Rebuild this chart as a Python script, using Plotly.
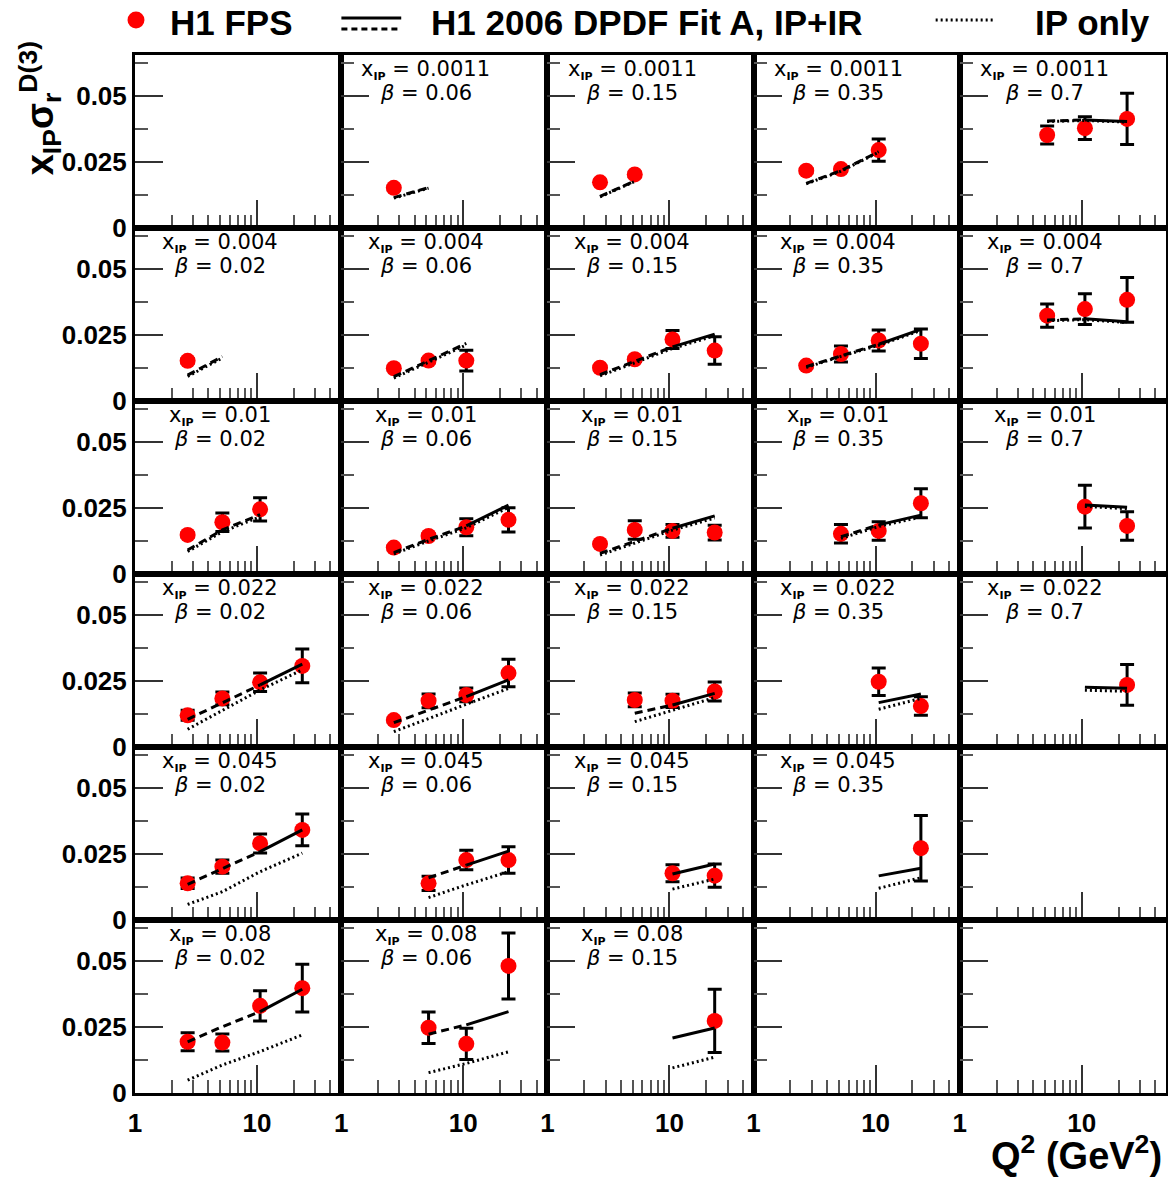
import plotly.graph_objects as go

# ---------------- data ----------------
Q2 = [2.7, 5.2, 10.6, 23.5]                       # GeV^2 bin centres
X_POM = ["0.0011", "0.004", "0.01", "0.022", "0.045", "0.08"]   # rows
BETA = ["0.02", "0.06", "0.15", "0.35", "0.7"]                  # columns
N = None

# x_IP = 0.0011  (one list per beta column, values at the Q2 points)
sig_0011 = [[N, N, N, N], [0.0152, N, N, N], [0.0173, 0.0203, N, N],
            [0.0217, 0.0223, 0.0295, N], [N, 0.0352, 0.0378, 0.0413]]
err_0011 = [[N, N, N, N], [0.0008, N, N, N], [0.0008, 0.0008, N, N],
            [0.0008, 0.0008, 0.0042, N], [N, 0.0034, 0.0043, 0.0097]]
fit_0011 = [[N, N, N, N], [0.0115, 0.0153, N, N], [0.0120, 0.0178, N, N],
            [0.0169, 0.0217, 0.0289, N], [N, 0.0405, 0.0409, 0.0403]]
ip_0011 = [[N, N, N, N], [0.0113, 0.0151, N, N], [0.0118, 0.0176, N, N],
           [0.0167, 0.0215, 0.0287, N], [N, 0.0403, 0.0407, 0.0401]]

# x_IP = 0.004
sig_004 = [[0.0152, N, N, N], [0.0124, 0.0153, 0.0153, N], [0.0126, 0.0158, 0.0233, 0.0191],
           [0.0134, 0.0178, 0.0229, 0.0217], [N, 0.0323, 0.0348, 0.0383]]
err_004 = [[0.0008, N, N, N], [0.0008, 0.0008, 0.0039, N], [0.0008, 0.0008, 0.0034, 0.0052],
           [0.0008, 0.0030, 0.0040, 0.0056], [N, 0.0044, 0.0058, 0.0085]]
fit_004 = [[0.0098, 0.0168, N, N], [0.0092, 0.0153, 0.0218, N], [0.0100, 0.0150, 0.0205, 0.0253],
           [0.0130, 0.0172, 0.0215, 0.0271], [N, 0.0307, 0.0311, 0.0300]]
ip_004 = [[0.0093, 0.0163, N, N], [0.0087, 0.0148, 0.0212, N], [0.0095, 0.0145, 0.0199, 0.0247],
          [0.0127, 0.0169, 0.0211, 0.0267], [N, 0.0304, 0.0308, 0.0297]]

# x_IP = 0.01
sig_01 = [[0.0148, 0.0196, 0.0245, N], [0.0100, 0.0144, 0.0177, 0.0205], [0.0114, 0.0167, 0.0163, 0.0157],
          [N, 0.0152, 0.0163, 0.0268], [N, N, 0.0255, 0.0182]]
err_01 = [[0.0008, 0.0035, 0.0044, N], [0.0008, 0.0008, 0.0032, 0.0046], [0.0008, 0.0035, 0.0024, 0.0028],
          [N, 0.0035, 0.0035, 0.0055], [N, N, 0.0081, 0.0054]]
fit_01 = [[0.0091, 0.0167, 0.0225, N], [0.0081, 0.0131, 0.0182, 0.0261], [0.0078, 0.0123, 0.0173, 0.0220],
          [N, 0.0141, 0.0186, 0.0223], [N, N, 0.0261, 0.0253]]
ip_01 = [[0.0085, 0.0160, 0.0217, N], [0.0076, 0.0125, 0.0175, 0.0252], [0.0072, 0.0117, 0.0166, 0.0212],
         [N, 0.0135, 0.0180, 0.0216], [N, N, 0.0256, 0.0247]]

# x_IP = 0.022
sig_022 = [[0.0120, 0.0184, 0.0245, 0.0307], [0.0102, 0.0175, 0.0197, 0.0280], [N, 0.0178, 0.0175, 0.0210],
           [N, N, 0.0247, 0.0155], [N, N, N, 0.0235]]
err_022 = [[0.0019, 0.0024, 0.0035, 0.0064], [0.0008, 0.0026, 0.0026, 0.0052], [N, 0.0026, 0.0025, 0.0036],
           [N, N, 0.0052, 0.0035], [N, N, N, 0.0077]]
fit_022 = [[0.0105, 0.0168, 0.0235, 0.0314], [0.0092, 0.0140, 0.0191, 0.0254], [N, 0.0128, 0.0159, 0.0203],
           [N, N, 0.0168, 0.0201], [N, N, 0.0226, 0.0222]]
ip_022 = [[0.0067, 0.0139, 0.0216, 0.0292], [0.0058, 0.0108, 0.0163, 0.0222], [N, 0.0096, 0.0138, 0.0187],
          [N, N, 0.0143, 0.0184], [N, N, 0.0215, 0.0211]]

# x_IP = 0.045
sig_045 = [[0.0139, 0.0202, 0.0290, 0.0341], [N, 0.0139, 0.0227, 0.0227], [N, N, 0.0177, 0.0168],
           [N, N, N, 0.0272], [N, N, N, N]]
err_045 = [[0.0020, 0.0025, 0.0036, 0.0060], [N, 0.0027, 0.0037, 0.0050], [N, N, 0.0032, 0.0044],
           [N, N, N, 0.0124], [N, N, N, N]]
fit_045 = [[0.0135, 0.0194, 0.0259, 0.0341], [N, 0.0160, 0.0208, 0.0261], [N, N, 0.0174, 0.0212],
           [N, N, 0.0167, 0.0196], [N, N, N, N]]
ip_045 = [[0.0059, 0.0107, 0.0183, 0.0253], [N, 0.0085, 0.0133, 0.0183], [N, N, 0.0117, 0.0155],
          [N, N, 0.0120, 0.0160], [N, N, N, N]]

# x_IP = 0.08
sig_08 = [[0.0194, 0.0191, 0.0330, 0.0397], [N, 0.0247, 0.0186, 0.0481], [N, N, N, 0.0273],
          [N, N, N, N], [N, N, N, N]]
err_08 = [[0.0034, 0.0032, 0.0057, 0.0090], [N, 0.0060, 0.0059, 0.0125], [N, N, N, 0.0120],
          [N, N, N, N], [N, N, N, N]]
fit_08 = [[0.0194, 0.0251, 0.0308, 0.0393], [N, 0.0223, 0.0258, 0.0308], [N, N, 0.0208, 0.0246],
          [N, N, N, N], [N, N, N, N]]
ip_08 = [[0.0049, 0.0106, 0.0157, 0.0220], [N, 0.0077, 0.0112, 0.0156], [N, N, 0.0095, 0.0136],
         [N, N, N, N], [N, N, N, N]]

SIG = [sig_0011, sig_004, sig_01, sig_022, sig_045, sig_08]
ERR = [err_0011, err_004, err_01, err_022, err_045, err_08]
FIT = [fit_0011, fit_004, fit_01, fit_022, fit_045, fit_08]
IPO = [ip_0011, ip_004, ip_01, ip_022, ip_045, ip_08]

X_TICKS = [1, 10]
X_MINOR = [2, 3, 4, 5, 6, 7, 8, 9, 20, 30, 40]
Y_TICKS = [0, 0.025, 0.05]
Y_TICKTEXT = ["0", "0.025", "0.05"]
Y_MINOR = [0.0125, 0.0375, 0.0625]

# ---------------- layout geometry ----------------
# the page body has an 8 px margin, so the figure is made 8 px smaller
OFF = 8
WIN_W, WIN_H = 1176, 1181
W, H = WIN_W - OFF, WIN_H - OFF
ML, MR, MT, MB = 135 - OFF, 7, 55 - OFF, 88
PW, PH = W - ML - MR, H - MT - MB
NR, NC = 6, 5

TICKFONT = dict(family="Liberation Sans, Arial, sans-serif", size=26, color="black", weight="bold")
LBLFONT = dict(family="DejaVu Sans, sans-serif", size=21, color="black")
BIGFONT = dict(family="Liberation Sans, Arial, sans-serif", size=35, color="black", weight="bold")
TITLEFONT = dict(family="Liberation Sans, Arial, sans-serif", size=38, color="black", weight="bold")

fig = go.Figure()
layout = {}
annotations = []
shapes = []

fit_solid_traces = []
fit_dash_traces = []
ip_traces = []

for r in range(NR):
    for c in range(NC):
        idx = r * NC + c + 1
        xa = "x" if idx == 1 else f"x{idx}"
        ya = "y" if idx == 1 else f"y{idx}"
        xkey = "xaxis" if idx == 1 else f"xaxis{idx}"
        ykey = "yaxis" if idx == 1 else f"yaxis{idx}"

        layout[xkey] = dict(
            type="log", range=[0, 1.69], domain=[c / NC, (c + 1) / NC], anchor=ya,
            showline=True, mirror=True, linewidth=3, linecolor="black",
            showgrid=False, zeroline=False,
            tickmode="array", tickvals=X_TICKS, ticktext=["1", "10"],
            ticks="inside", ticklen=28, tickwidth=1.5, tickcolor="#333",
            minor=dict(tickmode="array", tickvals=X_MINOR, ticks="inside", ticklen=13,
                       tickwidth=1.5, tickcolor="#555", showgrid=False),
            showticklabels=(r == NR - 1), tickfont=TICKFONT, ticklabelstandoff=5,
        )
        layout[ykey] = dict(
            range=[0, 0.0655], domain=[1 - (r + 1) / NR, 1 - r / NR], anchor=xa,
            showline=True, mirror=True, linewidth=3, linecolor="black",
            showgrid=False, zeroline=False,
            tickmode="array", tickvals=Y_TICKS, ticktext=Y_TICKTEXT,
            ticks="inside", ticklen=28, tickwidth=1.5, tickcolor="#333",
            minor=dict(tickmode="array", tickvals=Y_MINOR, ticks="inside", ticklen=13,
                       tickwidth=1.5, tickcolor="#555", showgrid=False),
            showticklabels=(c == 0), tickfont=TICKFONT, ticklabelstandoff=0,
        )

        sig = SIG[r][c]
        err = ERR[r][c]
        fit = FIT[r][c]
        ipo = IPO[r][c]
        has_any = any(v is not None for v in sig + fit)

        if has_any:
            xr = "x domain" if idx == 1 else f"x{idx} domain"
            yr = "y domain" if idx == 1 else f"y{idx} domain"
            annotations.append(dict(
                text=f"x<sub><span style='font-size:11px'><b>IP</b></span></sub> = {X_POM[r]}",
                xref=xr, yref=yr,
                x=0.411, y=1 - 15 / 173, xanchor="center", yanchor="middle",
                showarrow=False, font=LBLFONT))
            annotations.append(dict(
                text=f"<i>β</i> = {BETA[c]}", xref=xr, yref=yr,
                x=0.411, y=1 - 38 / 173, xanchor="center", yanchor="middle",
                showarrow=False, font=LBLFONT))

        # data points
        if any(v is not None for v in sig):
            fig.add_trace(go.Scatter(
                x=Q2, y=sig, xaxis=xa, yaxis=ya, mode="markers",
                marker=dict(color="#ff0000", size=16, line=dict(width=0)),
                error_y=dict(type="data", array=[e if e is not None else 0 for e in err],
                             color="black", thickness=3, width=7),
                showlegend=False, hoverinfo="skip"))

        # fit lines: dashed below Q2 = 10.6, solid above
        ip_traces.append(go.Scatter(
            x=Q2, y=ipo, xaxis=xa, yaxis=ya, mode="lines",
            line=dict(color="black", width=3, dash="2px,3px"),
            showlegend=False, hoverinfo="skip"))
        fit_dash_traces.append(go.Scatter(
            x=Q2[:3], y=fit[:3], xaxis=xa, yaxis=ya, mode="lines",
            line=dict(color="black", width=3, dash="8px,5px"),
            showlegend=False, hoverinfo="skip"))
        fit_solid_traces.append(go.Scatter(
            x=Q2[2:], y=fit[2:], xaxis=xa, yaxis=ya, mode="lines",
            line=dict(color="black", width=3),
            showlegend=False, hoverinfo="skip"))

for t in ip_traces + fit_dash_traces + fit_solid_traces:
    fig.add_trace(t)


# window pixel -> paper coordinates
def px(xp):
    return (xp - 135) / PW


def py(yp):
    return (WIN_H - MB - yp) / PH


# ---------------- legend (drawn by hand) ----------------
shapes.append(dict(type="circle", xref="paper", yref="paper",
                   x0=px(127.5), x1=px(144.5), y0=py(28.5), y1=py(11.5),
                   fillcolor="#ff0000", line=dict(width=0)))
shapes.append(dict(type="line", xref="paper", yref="paper",
                   x0=px(342), x1=px(402), y0=py(18), y1=py(18),
                   line=dict(color="black", width=3)))
shapes.append(dict(type="line", xref="paper", yref="paper",
                   x0=px(342), x1=px(402), y0=py(29), y1=py(29),
                   line=dict(color="black", width=3, dash="6px,4px")))
shapes.append(dict(type="line", xref="paper", yref="paper",
                   x0=px(938), x1=px(998), y0=py(20), y1=py(20),
                   line=dict(color="black", width=3, dash="2px,3px")))

annotations += [
    dict(text="H1 FPS", xref="paper", yref="paper", x=px(168), y=py(22),
         xanchor="left", yanchor="middle", showarrow=False, font=BIGFONT),
    dict(text="H1 2006 DPDF Fit A, IP+IR", xref="paper", yref="paper", x=px(430), y=py(22),
         xanchor="left", yanchor="middle", showarrow=False, font=BIGFONT),
    dict(text="IP only", xref="paper", yref="paper", x=px(1155), y=py(22),
         xanchor="right", yanchor="middle", showarrow=False, font=BIGFONT),
    dict(text="x<sub>IP</sub>σ<sub>r</sub><sup>D(3)</sup>", xref="paper", yref="paper",
         x=px(40), y=py(108), xanchor="center", yanchor="middle", textangle=-90,
         showarrow=False, font=TITLEFONT),
    dict(text="Q<sup>2</sup> (GeV<sup>2</sup>)", xref="paper", yref="paper",
         x=px(1167), y=py(1153), xanchor="right", yanchor="middle",
         showarrow=False, font=TITLEFONT),
]

fig.update_layout(
    width=W, height=H,
    margin=dict(l=ML, r=MR, t=MT, b=MB),
    paper_bgcolor="white", plot_bgcolor="white",
    showlegend=False,
    annotations=annotations, shapes=shapes,
    **layout,
)

fig.write_html("out.html")
